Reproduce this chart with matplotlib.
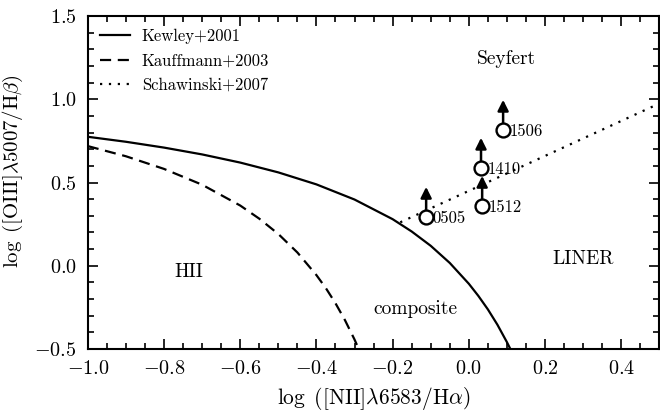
import matplotlib
matplotlib.use("Agg")
import matplotlib.pyplot as plt
from matplotlib.ticker import MultipleLocator

plt.rcParams['font.family'] = 'serif'
plt.rcParams['font.serif'] = ['cmr10']
plt.rcParams['mathtext.fontset'] = 'cm'
plt.rcParams['axes.formatter.use_mathtext'] = True
plt.rcParams['font.size'] = 14

# Demarcation curves
kewley_x = [-1.0, -0.9, -0.8, -0.7, -0.6, -0.5, -0.4, -0.3, -0.2, -0.15, -0.1, -0.05,
            0.0, 0.025, 0.05, 0.075, 0.1, 0.109]
kewley_y = [0.775, 0.745, 0.710, 0.669, 0.620, 0.561, 0.489, 0.398, 0.280, 0.206, 0.120, 0.017,
            -0.108, -0.181, -0.262, -0.354, -0.459, -0.5]
kauff_x = [-1.0, -0.9, -0.8, -0.7, -0.6, -0.55, -0.5, -0.45, -0.4, -0.375, -0.35, -0.325, -0.3, -0.289]
kauff_y = [0.719, 0.658, 0.582, 0.487, 0.362, 0.283, 0.191, 0.080, -0.056, -0.135, -0.225, -0.327, -0.443, -0.5]
schaw_x = [-0.18, 0.5]
schaw_y = [0.261, 0.975]

# Sources (lower limits)
src_names = ['0505', '1410', '1512', '1506']
src_x = [-0.112, 0.032, 0.035, 0.09]
src_y = [0.294, 0.589, 0.36, 0.817]
arrow_len = 0.18

# Region labels
region_names = ['Seyfert', 'LINER', 'HII', 'composite']
region_x = [0.10, 0.30, -0.734, -0.14]
region_y = [1.24, 0.04, -0.04, -0.26]

fig = plt.figure(figsize=(6.6, 4.13), dpi=100)
ax = fig.add_axes([0.133, 0.155, 0.866, 0.806])

ax.plot(kewley_x, kewley_y, 'k-', lw=1.6, label='Kewley+2001')
ax.plot(kauff_x, kauff_y, color='k', lw=1.6, ls=(0, (5, 3)), label='Kauffmann+2003')
ax.plot(schaw_x, schaw_y, color='k', lw=1.6, ls=(0, (1, 3)), label='Schawinski+2007')

for n, x, y in zip(src_names, src_x, src_y):
    ax.annotate('', xy=(x, y + arrow_len), xytext=(x, y),
                arrowprops=dict(arrowstyle='-|>', color='k', lw=1.8, mutation_scale=16,
                                shrinkA=0, shrinkB=0), zorder=3)
    ax.plot(x, y, 'o', ms=10, mfc='white', mec='k', mew=1.7, zorder=4)
    ax.text(x + 0.017, y - 0.01, n, ha='left', va='center', fontsize=12)

for n, x, y in zip(region_names, region_x, region_y):
    ax.text(x, y, n, ha='center', va='center', fontsize=14)

ax.set_xlim(-1.0, 0.5)
ax.set_ylim(-0.5, 1.5)
ax.xaxis.set_major_locator(MultipleLocator(0.2))
ax.xaxis.set_minor_locator(MultipleLocator(0.05))
ax.yaxis.set_major_locator(MultipleLocator(0.5))
ax.yaxis.set_minor_locator(MultipleLocator(0.1))
ax.tick_params(which='both', direction='in', top=True, right=True, width=1.2)
ax.tick_params(which='major', length=7, labelsize=14.5, pad=8)
ax.tick_params(which='minor', length=4)
for s in ax.spines.values():
    s.set_linewidth(1.5)

ax.set_xlabel(r'$\log\ ([\mathrm{NII}]\lambda6583/\mathrm{H}\alpha)$', fontsize=15.5, labelpad=5)
ax.set_ylabel(r'$\log\ ([\mathrm{OIII}]\lambda5007/\mathrm{H}\beta)$', fontsize=15)
ax.yaxis.set_label_coords(-0.11, 0.535)

ax.legend(loc='upper left', frameon=False, fontsize=12, handlelength=1.8, handletextpad=0.7,
          labelspacing=0.55, borderaxespad=0.35)

fig.savefig('out.png', dpi=100)
